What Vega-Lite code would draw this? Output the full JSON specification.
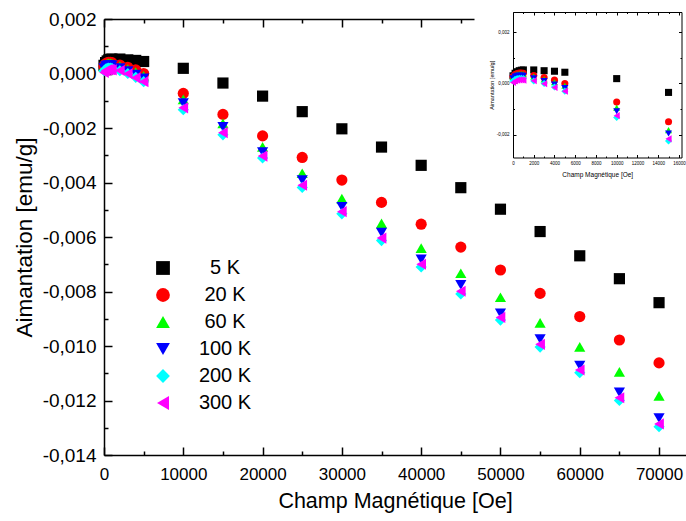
{
  "$schema": "https://vega.github.io/schema/vega-lite/v6.json",
  "width": 582,
  "height": 436,
  "autosize": {"type": "none"},
  "padding": {"left": 104, "top": 19, "right": 0, "bottom": 66},
  "background": "white",
  "config": {"view": {"stroke": null}, "font": "Liberation Sans"},
  "datasets": {
    "d": [
      {"H":0,"M":0.00030,"T":"5 K"},{"H":200,"M":0.00040,"T":"5 K"},{"H":400,"M":0.00046,"T":"5 K"},{"H":600,"M":0.00050,"T":"5 K"},{"H":800,"M":0.00052,"T":"5 K"},{"H":1000,"M":0.00053,"T":"5 K"},{"H":2000,"M":0.00053,"T":"5 K"},{"H":3000,"M":0.00050,"T":"5 K"},{"H":4000,"M":0.00048,"T":"5 K"},{"H":5000,"M":0.00044,"T":"5 K"},{"H":10000,"M":0.00019,"T":"5 K"},{"H":15000,"M":-0.00035,"T":"5 K"},{"H":20000,"M":-0.00083,"T":"5 K"},{"H":25000,"M":-0.00140,"T":"5 K"},{"H":30000,"M":-0.00203,"T":"5 K"},{"H":35000,"M":-0.00270,"T":"5 K"},{"H":40000,"M":-0.00337,"T":"5 K"},{"H":45000,"M":-0.00419,"T":"5 K"},{"H":50000,"M":-0.00498,"T":"5 K"},{"H":55000,"M":-0.00580,"T":"5 K"},{"H":60000,"M":-0.00669,"T":"5 K"},{"H":65000,"M":-0.00753,"T":"5 K"},{"H":70000,"M":-0.00841,"T":"5 K"},
      {"H":0,"M":0.00027,"T":"20 K"},{"H":200,"M":0.00035,"T":"20 K"},{"H":400,"M":0.00039,"T":"20 K"},{"H":600,"M":0.00041,"T":"20 K"},{"H":800,"M":0.00041,"T":"20 K"},{"H":1000,"M":0.00040,"T":"20 K"},{"H":2000,"M":0.00031,"T":"20 K"},{"H":3000,"M":0.00023,"T":"20 K"},{"H":4000,"M":0.00013,"T":"20 K"},{"H":5000,"M":0.00000,"T":"20 K"},{"H":10000,"M":-0.00073,"T":"20 K"},{"H":15000,"M":-0.00150,"T":"20 K"},{"H":20000,"M":-0.00229,"T":"20 K"},{"H":25000,"M":-0.00308,"T":"20 K"},{"H":30000,"M":-0.00391,"T":"20 K"},{"H":35000,"M":-0.00473,"T":"20 K"},{"H":40000,"M":-0.00553,"T":"20 K"},{"H":45000,"M":-0.00637,"T":"20 K"},{"H":50000,"M":-0.00721,"T":"20 K"},{"H":55000,"M":-0.00807,"T":"20 K"},{"H":60000,"M":-0.00892,"T":"20 K"},{"H":65000,"M":-0.00978,"T":"20 K"},{"H":70000,"M":-0.01062,"T":"20 K"},
      {"H":0,"M":0.00025,"T":"60 K"},{"H":200,"M":0.00032,"T":"60 K"},{"H":400,"M":0.00036,"T":"60 K"},{"H":600,"M":0.00037,"T":"60 K"},{"H":800,"M":0.00037,"T":"60 K"},{"H":1000,"M":0.00036,"T":"60 K"},{"H":2000,"M":0.00027,"T":"60 K"},{"H":3000,"M":0.00016,"T":"60 K"},{"H":4000,"M":0.00005,"T":"60 K"},{"H":5000,"M":-0.00009,"T":"60 K"},{"H":10000,"M":-0.00095,"T":"60 K"},{"H":15000,"M":-0.00183,"T":"60 K"},{"H":20000,"M":-0.00269,"T":"60 K"},{"H":25000,"M":-0.00366,"T":"60 K"},{"H":30000,"M":-0.00459,"T":"60 K"},{"H":35000,"M":-0.00550,"T":"60 K"},{"H":40000,"M":-0.00641,"T":"60 K"},{"H":45000,"M":-0.00733,"T":"60 K"},{"H":50000,"M":-0.00821,"T":"60 K"},{"H":55000,"M":-0.00915,"T":"60 K"},{"H":60000,"M":-0.01003,"T":"60 K"},{"H":65000,"M":-0.01095,"T":"60 K"},{"H":70000,"M":-0.01183,"T":"60 K"},
      {"H":0,"M":0.00020,"T":"100 K"},{"H":200,"M":0.00027,"T":"100 K"},{"H":400,"M":0.00030,"T":"100 K"},{"H":600,"M":0.00031,"T":"100 K"},{"H":800,"M":0.00031,"T":"100 K"},{"H":1000,"M":0.00030,"T":"100 K"},{"H":2000,"M":0.00020,"T":"100 K"},{"H":3000,"M":0.00009,"T":"100 K"},{"H":4000,"M":-0.00004,"T":"100 K"},{"H":5000,"M":-0.00018,"T":"100 K"},{"H":10000,"M":-0.00109,"T":"100 K"},{"H":15000,"M":-0.00196,"T":"100 K"},{"H":20000,"M":-0.00288,"T":"100 K"},{"H":25000,"M":-0.00391,"T":"100 K"},{"H":30000,"M":-0.00489,"T":"100 K"},{"H":35000,"M":-0.00584,"T":"100 K"},{"H":40000,"M":-0.00682,"T":"100 K"},{"H":45000,"M":-0.00776,"T":"100 K"},{"H":50000,"M":-0.00880,"T":"100 K"},{"H":55000,"M":-0.00975,"T":"100 K"},{"H":60000,"M":-0.01072,"T":"100 K"},{"H":65000,"M":-0.01170,"T":"100 K"},{"H":70000,"M":-0.01265,"T":"100 K"},
      {"H":0,"M":0.00010,"T":"200 K"},{"H":200,"M":0.00016,"T":"200 K"},{"H":400,"M":0.00019,"T":"200 K"},{"H":600,"M":0.00020,"T":"200 K"},{"H":800,"M":0.00020,"T":"200 K"},{"H":1000,"M":0.00019,"T":"200 K"},{"H":2000,"M":0.00010,"T":"200 K"},{"H":3000,"M":0.00000,"T":"200 K"},{"H":4000,"M":-0.00014,"T":"200 K"},{"H":5000,"M":-0.00030,"T":"200 K"},{"H":10000,"M":-0.00133,"T":"200 K"},{"H":15000,"M":-0.00225,"T":"200 K"},{"H":20000,"M":-0.00310,"T":"200 K"},{"H":25000,"M":-0.00418,"T":"200 K"},{"H":30000,"M":-0.00515,"T":"200 K"},{"H":35000,"M":-0.00613,"T":"200 K"},{"H":40000,"M":-0.00710,"T":"200 K"},{"H":45000,"M":-0.00809,"T":"200 K"},{"H":50000,"M":-0.00905,"T":"200 K"},{"H":55000,"M":-0.01004,"T":"200 K"},{"H":60000,"M":-0.01098,"T":"200 K"},{"H":65000,"M":-0.01200,"T":"200 K"},{"H":70000,"M":-0.01296,"T":"200 K"},
      {"H":0,"M":0.00004,"T":"300 K"},{"H":200,"M":0.00010,"T":"300 K"},{"H":400,"M":0.00013,"T":"300 K"},{"H":600,"M":0.00014,"T":"300 K"},{"H":800,"M":0.00014,"T":"300 K"},{"H":1000,"M":0.00013,"T":"300 K"},{"H":2000,"M":0.00011,"T":"300 K"},{"H":3000,"M":-0.00001,"T":"300 K"},{"H":4000,"M":-0.00016,"T":"300 K"},{"H":5000,"M":-0.00030,"T":"300 K"},{"H":10000,"M":-0.00126,"T":"300 K"},{"H":15000,"M":-0.00217,"T":"300 K"},{"H":20000,"M":-0.00303,"T":"300 K"},{"H":25000,"M":-0.00410,"T":"300 K"},{"H":30000,"M":-0.00507,"T":"300 K"},{"H":35000,"M":-0.00604,"T":"300 K"},{"H":40000,"M":-0.00700,"T":"300 K"},{"H":45000,"M":-0.00799,"T":"300 K"},{"H":50000,"M":-0.00895,"T":"300 K"},{"H":55000,"M":-0.00994,"T":"300 K"},{"H":60000,"M":-0.01088,"T":"300 K"},{"H":65000,"M":-0.01190,"T":"300 K"},{"H":70000,"M":-0.01286,"T":"300 K"}
    ]
  },
  "layer": [
    {
      "data": {"name": "d"},
      "mark": {"type": "point", "filled": true, "size": 125, "opacity": 1, "strokeWidth": 0},
      "encoding": {
        "x": {"field": "H", "type": "quantitative", "title": "Champ Magnétique [Oe]",
          "scale": {"domain": [0, 73400], "nice": false, "zero": false},
          "axis": {"values": [0,5000,10000,15000,20000,25000,30000,35000,40000,45000,50000,55000,60000,65000,70000],
            "labelExpr": "datum.value % 10000 === 0 ? format(datum.value, 'd') : ''",
            "tickSize": {"condition": {"test": "datum.value % 10000 === 0", "value": -8}, "value": -4},
            "labelPadding": 19, "grid": false, "labelFlush": false, "labelOverlap": false,
            "domainColor": "#000", "tickColor": "#000", "domainWidth": 1.5, "tickWidth": 1.5,
            "labelFont": "Liberation Sans", "labelFontSize": 17, "labelColor": "#000",
            "titleFont": "Liberation Sans", "titleFontSize": 21.5, "titleFontWeight": "normal", "titleColor": "#000", "titlePadding": 4}},
        "y": {"field": "M", "type": "quantitative", "title": "Aimantation [emu/g]",
          "scale": {"domain": [-0.014, 0.002], "nice": false, "zero": false},
          "axis": {"values": [-0.014,-0.013,-0.012,-0.011,-0.01,-0.009,-0.008,-0.007,-0.006,-0.005,-0.004,-0.003,-0.002,-0.001,0,0.001,0.002],
            "labelExpr": "round(datum.value*1000) % 2 === 0 ? replace(replace(format(datum.value, '.3f'), '.', ','), '\u2212', '-') : ''",
            "tickSize": {"condition": {"test": "round(datum.value*1000) % 2 === 0", "value": -8}, "value": -4},
            "labelPadding": 16, "grid": false, "labelFlush": false, "labelOverlap": false,
            "domainColor": "#000", "tickColor": "#000", "domainWidth": 1.5, "tickWidth": 1.5,
            "labelFont": "Liberation Sans", "labelFontSize": 19, "labelColor": "#000",
            "titleFont": "Liberation Sans", "titleFontSize": 22.5, "titleFontWeight": "normal", "titleColor": "#000", "titlePadding": 6}},
        "shape": {"field": "T", "type": "nominal",
          "scale": {"domain": ["5 K","20 K","60 K","100 K","200 K","300 K"], "range": ["square","circle","triangle-up","triangle-down","diamond","triangle-left"]},
          "legend": {"orient": "none", "legendX": 49, "legendY": 239, "title": null, "padding": 0, "rowPadding": 7, "labelFontSize": 20, "labelFont": "Liberation Sans", "labelColor": "#000", "symbolSize": 190, "labelAlign": "center", "labelOffset": 52, "symbolStrokeWidth": 0}},
        "color": {"field": "T", "type": "nominal",
          "scale": {"domain": ["5 K","20 K","60 K","100 K","200 K","300 K"], "range": ["#000000","#ff0000","#00ff00","#0000ff","#00ffff","#ff00ff"]},
          "legend": {"orient": "none", "legendX": 49, "legendY": 239, "title": null, "padding": 0, "rowPadding": 7, "labelFontSize": 20, "labelFont": "Liberation Sans", "labelColor": "#000", "symbolSize": 190, "labelAlign": "center", "labelOffset": 52, "symbolStrokeWidth": 0}}
      }
    },
    {
      "data": {"name": "d"},
      "transform": [{"filter": "datum.H == 0 && datum.T == '5 K'"}],
      "mark": {"type": "point", "opacity": 0},
      "encoding": {
        "x": {"field": "H", "type": "quantitative",
          "scale": {"domain": [0, 46650], "range": [0, 370], "nice": false, "zero": false},
          "axis": {"orient": "top", "values": [0,5000,10000,15000,20000,25000,30000,35000,40000,45000], "labels": false, "title": null, "grid": false,
            "tickSize": {"condition": {"test": "datum.value % 10000 === 0", "value": -8}, "value": -4},
            "domainColor": "#000", "tickColor": "#000", "domainWidth": 1.5, "tickWidth": 1.5}},
        "y": {"field": "M", "type": "quantitative", "scale": {"domain": [-0.014, 0.002], "nice": false, "zero": false}, "axis": null}
      }
    },
    {
      "data": {"name": "d"},
      "transform": [{"filter": "datum.H <= 16000"}],
      "mark": {"type": "point", "filled": true, "size": 50, "opacity": 1, "strokeWidth": 0},
      "encoding": {
        "x": {"field": "H", "type": "quantitative", "title": "Champ Magnétique [Oe]",
          "scale": {"domain": [0, 16250], "range": [409, 577.5], "nice": false, "zero": false},
          "axis": {"orient": "bottom", "offset": -297.5, "values": [0,1000,2000,3000,4000,5000,6000,7000,8000,9000,10000,11000,12000,13000,14000,15000,16000],
            "labelExpr": "datum.value % 2000 === 0 ? format(datum.value, 'd') : ''",
            "tickSize": {"condition": {"test": "datum.value % 2000 === 0", "value": -3}, "value": -1.5},
            "labelPadding": 6, "grid": false, "labelFlush": false, "labelOverlap": false,
            "domainColor": "#000", "tickColor": "#000", "domainWidth": 1, "tickWidth": 1,
            "labelFont": "Liberation Sans", "labelFontSize": 4.5, "labelColor": "#000",
            "titleFont": "Liberation Sans", "titleFontSize": 6.5, "titleFontWeight": "normal", "titleColor": "#000", "titlePadding": 5}},
        "y": {"field": "M", "type": "quantitative", "title": "Aimantation [emu/g]",
          "scale": {"domain": [-0.0029, 0.0028], "range": [138.5, -7], "nice": false, "zero": false},
          "axis": {"orient": "left", "offset": -409, "values": [-0.002,-0.001,0,0.001,0.002],
            "labelExpr": "round(datum.value*1000) % 2 === 0 ? replace(replace(format(datum.value, '.3f'), '.', ','), '\u2212', '-') : ''",
            "tickSize": {"condition": {"test": "round(datum.value*1000) % 2 === 0", "value": -3}, "value": -1.5},
            "labelPadding": 7, "grid": false, "labelFlush": false, "labelOverlap": false,
            "domainColor": "#000", "tickColor": "#000", "domainWidth": 1, "tickWidth": 1,
            "labelFont": "Liberation Sans", "labelFontSize": 4.5, "labelColor": "#000",
            "titleFont": "Liberation Sans", "titleFontSize": 5.5, "titleFontWeight": "normal", "titleColor": "#000", "titlePadding": 2}},
        "shape": {"field": "T", "type": "nominal", "legend": null},
        "color": {"field": "T", "type": "nominal", "legend": null}
      }
    },
    {
      "data": {"name": "d"},
      "transform": [{"filter": "datum.H == 0 && datum.T == '5 K'"}],
      "mark": {"type": "point", "opacity": 0},
      "encoding": {
        "x": {"field": "H", "type": "quantitative",
          "scale": {"domain": [0, 16250], "range": [409, 577.5], "nice": false, "zero": false},
          "axis": {"orient": "top", "offset": 7, "values": [0,1000,2000,3000,4000,5000,6000,7000,8000,9000,10000,11000,12000,13000,14000,15000,16000], "labels": false, "title": null, "grid": false,
            "tickSize": {"condition": {"test": "datum.value % 2000 === 0", "value": -3}, "value": -1.5},
            "domainColor": "#000", "tickColor": "#000", "domainWidth": 1, "tickWidth": 1}},
        "y": {"field": "M", "type": "quantitative",
          "scale": {"domain": [-0.0029, 0.0028], "range": [138.5, -7], "nice": false, "zero": false},
          "axis": {"orient": "right", "offset": -4.5, "values": [-0.002,-0.001,0,0.001,0.002], "labels": false, "title": null, "grid": false,
            "tickSize": {"condition": {"test": "round(datum.value*1000) % 2 === 0", "value": -3}, "value": -1.5},
            "domainColor": "#000", "tickColor": "#000", "domainWidth": 1, "tickWidth": 1}}
      }
    }
  ],
  "resolve": {"scale": {"x": "independent", "y": "independent"}, "axis": {"x": "independent", "y": "independent"}}
}
